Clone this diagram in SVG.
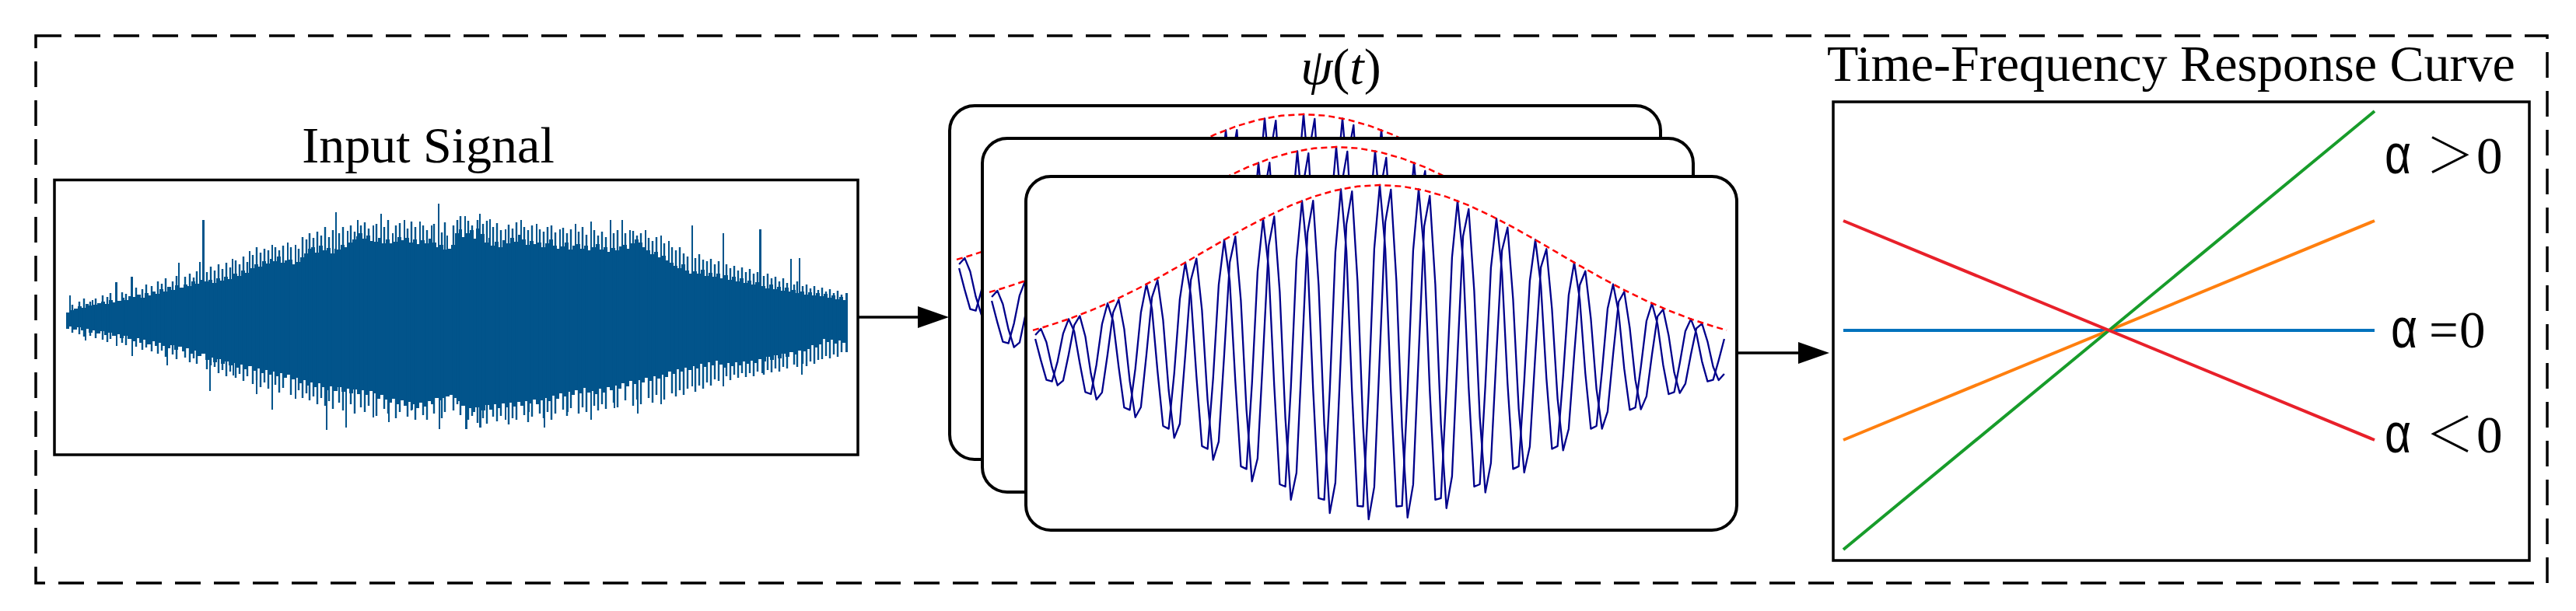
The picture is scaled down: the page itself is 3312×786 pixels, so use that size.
<svg xmlns="http://www.w3.org/2000/svg" xmlns:xlink="http://www.w3.org/1999/xlink" width="3312" height="786" viewBox="0 0 3312 786">
<style>
.lbl{font-family:"Liberation Serif","Times New Roman",serif;font-size:66px;fill:#000}
.card{fill:#fff;stroke:#000;stroke-width:4}
.box{fill:#fff;stroke:#000;stroke-width:3.5}
.wave{fill:none;stroke:#00008b;stroke-width:2.3;stroke-linejoin:round}
.env{fill:none;stroke:#ff0000;stroke-width:2.5;stroke-dasharray:8 5}
.conn{fill:none;stroke:#000;stroke-width:3.5}
.al{font-family:"Liberation Sans",Arial,sans-serif;font-size:72px}
.cj{font-family:"Noto Sans CJK SC",sans-serif;font-size:62px;font-weight:300}
.tm{font-family:"Liberation Serif","Times New Roman",serif;font-size:67px}
.tf{fill:none;stroke-width:4}
.sig{fill:#02548b}
.sigl{fill:none;stroke:#02548b;stroke-width:2.4}
</style>
<defs>
<marker id="ah" markerUnits="userSpaceOnUse" markerWidth="42" markerHeight="28" refX="25" refY="14" orient="auto">
<path d="M0,0 L40,14 L0,28 Z" fill="#000"/>
</marker>
<g id="wv">
<polyline class="wave" points="-442.9,-20 -435.7,7.6 -428.6,32.6 -421.4,34.6 -414.3,9.1 -407.1,-26.9 -400,-45.6 -392.9,-30.1 -385.7,11.3 -378.6,48.4 -371.4,51 -364.3,13.2 -357.1,-39 -350,-65.8 -342.9,-43 -335.7,16.1 -328.6,68.3 -321.4,71.4 -314.3,18.4 -307.1,-54 -300,-90.4 -292.9,-58.7 -285.7,21.8 -278.6,92 -271.4,95.6 -264.3,24.5 -257.1,-71.2 -250,-118.3 -242.9,-76.3 -235.7,28.2 -228.6,117.9 -221.4,121.5 -214.3,31 -207.1,-89.4 -200,-147.5 -192.9,-94.5 -185.7,34.6 -178.6,143.9 -171.4,147.4 -164.3,37.3 -157.1,-106.7 -150,-174.9 -142.9,-111.3 -135.7,40.5 -128.6,167 -121.4,170 -114.3,42.7 -107.1,-121.5 -100,-197.7 -92.9,-124.9 -85.7,45.1 -78.6,184.9 -71.4,186.9 -64.3,46.6 -57.1,-131.6 -50,-212.7 -42.9,-133.5 -35.7,47.9 -28.6,194.9 -21.4,195.5 -14.3,48.4 -7.1,-135.9 0,-218 7.1,-135.9 14.3,48.4 21.4,195.5 28.6,194.9 35.7,47.9 42.9,-133.5 50,-212.7 57.1,-131.6 64.3,46.6 71.4,186.9 78.6,184.9 85.7,45.1 92.9,-124.9 100,-197.7 107.1,-121.5 114.3,42.7 121.4,170 128.6,167 135.7,40.5 142.9,-111.3 150,-174.9 157.1,-106.7 164.3,37.3 171.4,147.4 178.6,143.9 185.7,34.6 192.9,-94.5 200,-147.5 207.1,-89.4 214.3,31 221.4,121.5 228.6,117.9 235.7,28.2 242.9,-76.3 250,-118.3 257.1,-71.2 264.3,24.5 271.4,95.6 278.6,92 285.7,21.8 292.9,-58.7 300,-90.4 307.1,-54 314.3,18.4 321.4,71.4 328.6,68.3 335.7,16.1 342.9,-43 350,-65.8 357.1,-39 364.3,13.2 371.4,51 378.6,48.4 385.7,11.3 392.9,-30.1 400,-45.6 407.1,-26.9 414.3,9.1 421.4,34.6 428.6,32.6 435.7,7.6 442.9,-20"/>
<polyline class="wave" points="-442.9,-25 -435.7,-33.1 -428.6,-15.7 -421.4,16.7 -414.3,39.7 -407.1,33.7 -400,0 -392.9,-37.7 -385.7,-49.6 -378.6,-23.3 -371.4,24.6 -364.3,58 -357.1,48.9 -350,0 -342.9,-53.9 -335.7,-70.6 -328.6,-32.9 -321.4,34.4 -314.3,80.8 -307.1,67.7 -300,0 -292.9,-73.6 -285.7,-95.6 -278.6,-44.3 -271.4,46 -264.3,107.3 -257.1,89.3 -250,0 -242.9,-95.7 -235.7,-123.4 -228.6,-56.8 -221.4,58.5 -214.3,135.7 -207.1,112.1 -200,0 -192.9,-118.5 -185.7,-151.8 -178.6,-69.3 -171.4,71 -164.3,163.3 -157.1,133.8 -150,0 -142.9,-139.6 -135.7,-177.5 -128.6,-80.4 -121.4,81.9 -114.3,187 -107.1,152.3 -100,0 -92.9,-156.7 -85.7,-197.8 -78.6,-89 -71.4,90 -64.3,204.1 -57.1,165 -50,0 -42.9,-167.4 -35.7,-209.9 -28.6,-93.9 -21.4,94.2 -14.3,212.1 -7.1,170.4 0,0 7.1,-170.4 14.3,-212.1 21.4,-94.2 28.6,93.9 35.7,209.9 42.9,167.4 50,0 57.1,-165 64.3,-204.1 71.4,-90 78.6,89 85.7,197.8 92.9,156.7 100,0 107.1,-152.3 114.3,-187 121.4,-81.9 128.6,80.4 135.7,177.5 142.9,139.6 150,0 157.1,-133.8 164.3,-163.3 171.4,-71 178.6,69.3 185.7,151.8 192.9,118.5 200,0 207.1,-112.1 214.3,-135.7 221.4,-58.5 228.6,56.8 235.7,123.4 242.9,95.7 250,0 257.1,-89.3 264.3,-107.3 271.4,-46 278.6,44.3 285.7,95.6 292.9,73.6 300,0 307.1,-67.7 314.3,-80.8 321.4,-34.4 328.6,32.9 335.7,70.6 342.9,53.9 350,0 357.1,-48.9 364.3,-58 371.4,-24.6 378.6,23.3 385.7,49.6 392.9,37.7 400,0 407.1,-33.7 414.3,-39.7 421.4,-16.7 428.6,15.7 435.7,33.1 442.9,25"/>
<polyline class="env" points="-446,-31.1 -428.6,-36.2 -400,-45.6 -371.4,-56.6 -342.9,-69 -314.3,-82.9 -285.7,-98.1 -257.1,-114.2 -228.6,-130.8 -200,-147.5 -171.4,-163.6 -142.9,-178.5 -114.3,-191.8 -85.7,-202.9 -57.1,-211.1 -28.6,-216.3 0,-218 28.6,-216.3 57.1,-211.1 85.7,-202.9 114.3,-191.8 142.9,-178.5 171.4,-163.6 200,-147.5 228.6,-130.8 257.1,-114.2 285.7,-98.1 314.3,-82.9 342.9,-69 371.4,-56.6 400,-45.6 428.6,-36.2 446,-31.1"/>
</g>
</defs>
<rect width="3312" height="786" fill="#fff"/>
<g id="frame">
<rect x="46" y="46" width="3229" height="704" fill="none" stroke="#000" stroke-width="3.5" stroke-dasharray="33 17"/>
</g>
<g id="input-signal">
<text class="lbl" x="550.5" y="209" text-anchor="middle">Input Signal</text>
<rect class="box" x="70" y="231.5" width="1033" height="353.5"/>
<path class="sig" d="M85,411 V402 H89 V380 H91 V399 H95 V397 H100 V394 H105 V396 H110 V391 H114 V393 H118 V386 H120 V392 H125 V390 H130 V388 H135 V391 H140 V386 H145 V389 H148 V363 H151 V387 H156 V383 H160 V386 H165 V381 H168 V356 H171 V382 H176 V379 H181 V383 H186 V377 H191 V380 H196 V375 H200 V378 H205 V372 H210 V375 H215 V369 H220 V373 H225 V367 H229 V338 H231 V370 H236 V366 H241 V368 H246 V362 H251 V365 H256 V337 H258 V360 H260 V283 H263 V362 H268 V360 H273 V364 H278 V358 H283 V361 H288 V356 H293 V359 H298 V333 H300 V352 H305 V355 H310 V348 H315 V351 H320 V323 H322 V345 H327 V340 H332 V343 H337 V336 H342 V339 H347 V333 H349 V315 H351 V336 H356 V330 H361 V338 H366 V335 H369 V312 H371 V334 H376 V340 H379 V315 H381 V337 H386 V331 H391 V326 H396 V320 H400 V318 H405 V325 H410 V316 H415 V322 H420 V319 H425 V326 H430 V320 H431 V273 H433 V321 H438 V315 H443 V318 H446 V297 H448 V312 H453 V308 H458 V304 H459 V283 H461 V300 H466 V307 H471 V303 H476 V310 H479 V290 H481 V311 H486 V306 H489 V275 H491 V313 H496 V308 H501 V313 H504 V300 H506 V311 H511 V305 H516 V309 H519 V283 H521 V306 H526 V312 H531 V308 H536 V314 H539 V285 H541 V309 H546 V313 H551 V307 H554 V290 H556 V312 H561 V318 H563 V262 H565 V315 H570 V321 H574 V303 H576 V320 H580 V315 H585 V300 H590 V295 H594 V305 H597 V278 H599 V300 H604 V296 H609 V307 H612 V294 H616 V275 H618 V301 H623 V312 H628 V306 H629 V282 H631 V316 H636 V311 H641 V318 H646 V309 H649 V295 H651 V313 H656 V306 H661 V311 H666 V302 H669 V283 H671 V308 H676 V315 H681 V310 H686 V314 H689 V288 H691 V312 H696 V318 H701 V313 H706 V308 H711 V316 H716 V320 H719 V295 H721 V317 H726 V312 H731 V321 H736 V316 H739 V288 H741 V314 H746 V320 H751 V316 H756 V322 H759 V285 H761 V318 H766 V314 H771 V321 H776 V318 H781 V324 H784 V283 H786 V319 H791 V322 H796 V317 H799 V283 H801 V315 H806 V320 H809 V296 H811 V313 H816 V308 H821 V312 H826 V318 H829 V296 H831 V322 H836 V327 H841 V324 H846 V331 H849 V303 H851 V329 H856 V335 H859 V310 H861 V338 H866 V342 H871 V345 H876 V340 H881 V348 H886 V352 H889 V290 H891 V349 H896 V352 H901 V347 H906 V355 H911 V351 H916 V356 H921 V352 H926 V358 H929 V300 H931 V354 H936 V360 H941 V356 H946 V362 H951 V358 H956 V364 H961 V361 H966 V366 H971 V363 H976 V295 H979 V368 H984 V371 H989 V366 H994 V372 H999 V369 H1004 V374 H1009 V370 H1014 V375 H1016 V333 H1018 V373 H1023 V377 H1027 V332 H1029 V375 H1034 V379 H1039 V376 H1044 V380 H1049 V377 H1054 V381 H1059 V378 H1064 V383 H1069 V380 H1074 V385 H1079 V382 H1084 V386 H1087 V377 H1090 V453 H1087 V441 H1082 V438 H1077 V442 H1072 V437 H1067 V440 H1062 V436 H1057 V443 H1052 V447 H1047 V444 H1042 V449 H1037 V452 H1032 V482 H1030 V451 H1025 V456 H1020 V453 H1015 V459 H1010 V455 H1005 V461 H1000 V457 H995 V463 H990 V459 H985 V465 H981 V480 H979 V462 H974 V467 H969 V464 H964 V468 H959 V465 H954 V470 H949 V466 H944 V471 H939 V467 H934 V473 H931 V497 H929 V469 H924 V464 H919 V470 H914 V466 H909 V472 H904 V468 H899 V474 H894 V471 H891 V497 H889 V476 H884 V473 H879 V478 H874 V475 H869 V481 H864 V478 H859 V485 H854 V482 H851 V520 H849 V487 H844 V484 H839 V490 H834 V486 H829 V492 H824 V489 H821 V532 H819 V494 H814 V490 H809 V497 H804 V493 H799 V500 H794 V496 H791 V525 H789 V502 H784 V498 H779 V505 H774 V500 H769 V507 H764 V503 H761 V540 H759 V505 H754 V499 H749 V506 H744 V502 H739 V508 H734 V504 H731 V530 H729 V510 H724 V506 H719 V513 H714 V509 H709 V516 H704 V512 H701 V550 H699 V515 H694 V520 H689 V514 H684 V519 H681 V530 H679 V516 H674 V522 H669 V517 H664 V523 H659 V518 H654 V524 H651 V540 H649 V519 H644 V525 H639 V520 H634 V527 H629 V521 H624 V528 H619 V550 H616 V524 H611 V530 H606 V525 H601 V552 H598 V522 H593 V516 H588 V512 H583 V508 H578 V510 H573 V512 H568 V515 H566 V552 H564 V512 H559 V520 H554 V516 H549 V523 H544 V518 H539 V525 H534 V520 H531 V527 H529 V517 H524 V522 H519 V515 H514 V520 H509 V513 H504 V518 H501 V543 H499 V514 H494 V508 H489 V513 H484 V506 H481 V537 H479 V503 H474 V508 H469 V502 H464 V507 H459 V501 H454 V506 H449 V500 H446 V550 H444 V504 H439 V498 H434 V503 H429 V497 H424 V502 H421 V553 H419 V498 H414 V493 H409 V498 H404 V492 H399 V496 H394 V489 H389 V493 H384 V486 H381 V513 H379 V488 H374 V482 H369 V486 H364 V480 H359 V484 H354 V478 H351 V527 H349 V482 H344 V476 H339 V480 H334 V474 H331 V507 H329 V477 H324 V471 H319 V475 H314 V469 H309 V473 H304 V467 H301 V483 H299 V470 H294 V465 H289 V468 H284 V462 H279 V466 H274 V460 H271 V503 H269 V463 H264 V455 H259 V458 H254 V451 H249 V455 H244 V448 H239 V452 H234 V446 H229 V450 H224 V444 H219 V448 H216 V470 H214 V445 H209 V441 H204 V445 H199 V439 H194 V443 H189 V437 H184 V441 H179 V435 H174 V439 H171 V458 H169 V436 H164 V432 H159 V435 H154 V430 H151 V445 H149 V432 H144 V428 H139 V431 H134 V426 H129 V429 H124 V425 H119 V428 H114 V423 H111 V438 H109 V425 H104 V421 H99 V424 H94 V420 H89 V423 H85 Z"/>
<path class="sigl" d="M93 392V428M102 388V430M108 384V433M116 388V432M123 384V435M132 380V437M138 382V440M142 377V436M157 376V441M162 378V444M175 370V446M183 372V450M188 366V447M195 368V452M203 362V455M208 365V451M213 358V459M222 362V456M227 355V462M238 356V460M244 352V466M249 357V461M253 349V468M266 350V475M271 343V470M276 348V472M281 340V480M286 346V476M291 338V484M296 344V478M303 335V486M308 340V481M313 330V490M318 337V484M325 328V494M330 318V489M335 325V498M340 320V492M345 322V500M354 318V495M359 322V505M364 316V499M374 318V508M384 320V502M389 305V512M394 308V506M398 300V515M403 306V510M408 298V520M413 303V512M418 292V522M423 305V516M428 296V526M436 300V518M441 292V528M451 290V520M456 298V532M464 290V524M469 286V530M474 294V522M484 288V535M494 292V526M499 283V532M509 290V538M514 287V530M524 294V536M529 285V528M534 292V540M544 290V534M549 296V540M558 288V532M568 299V538M572 286V530M583 290V528M588 283V520M592 278V534M602 284V540M607 290V535M614 283V544M621 288V538M626 284V545M634 292V536M639 287V542M644 296V535M654 289V546M659 294V538M664 286V540M674 292V534M679 296V543M684 290V536M694 295V532M699 298V538M704 292V530M709 290V540M714 299V532M724 293V527M729 300V535M734 295V525M744 298V532M749 292V524M754 302V530M764 296V522M769 303V528M774 298V520M779 305V526M789 300V518M794 296V524M804 300V515M814 297V522M819 303V514M824 300V520M834 306V512M839 310V518M844 305V508M854 313V514M864 318V506M869 322V510M874 318V502M879 326V508M884 330V500M894 332V504M899 327V496M904 334V500M909 336V492M914 333V496M919 340V488M924 336V490M934 340V484M939 345V489M944 342V482M949 348V486M954 344V480M959 350V485M964 346V480M969 352V484M974 350V478M982 355V482M987 352V476M992 358V479M997 356V474M1002 362V478M1007 358V472M1012 364V474M1021 366V469M1025 362V472M1032 368V468M1037 366V471M1042 371V465M1047 368V468M1052 373V463M1057 370V462M1062 375V458M1067 372V461M1072 377V456M1077 374V459M1082 379V453"/>
</g>
<g id="wavelet-bank">
<text class="lbl" x="1724" y="108" text-anchor="middle" font-size="60" font-style="italic">ψ<tspan font-style="normal">(</tspan>t<tspan font-style="normal">)</tspan></text>
<g id="card1">
<rect class="card" x="1221" y="136" width="914" height="455" rx="32"/>
<use xlink:href="#wv" href="#wv" transform="translate(1676,365)"/>
</g>
<g id="card2">
<rect class="card" x="1263" y="178" width="914" height="455" rx="32"/>
<use xlink:href="#wv" href="#wv" transform="translate(1718,407)"/>
</g>
<g id="card3">
<rect class="card" x="1319" y="227" width="914" height="455" rx="32"/>
<use xlink:href="#wv" href="#wv" transform="translate(1774,456)"/>
</g>
</g>
<g id="tf-curve">
<text class="lbl" x="2791.5" y="104" text-anchor="middle">Time-Frequency Response Curve</text>
<rect class="box" x="2357" y="131" width="895" height="590"/>
<line class="tf" x1="2370" y1="425" x2="3053" y2="425" stroke="#0072bd"/>
<line class="tf" x1="2370" y1="566" x2="3053" y2="284" stroke="#ff7f0e"/>
<line class="tf" x1="2370" y1="707" x2="3053" y2="143" stroke="#179c2a"/>
<line class="tf" x1="2370" y1="284" x2="3053" y2="566" stroke="#e8202a"/>
<text y="223"><tspan class="al" x="3066" textLength="34" lengthAdjust="spacingAndGlyphs">α</tspan><tspan class="cj" x="3119">＞</tspan><tspan class="tm" x="3184">0</tspan></text>
<text y="447"><tspan class="al" x="3074" textLength="34" lengthAdjust="spacingAndGlyphs">α</tspan><tspan class="tm" x="3123">=</tspan><tspan class="tm" x="3162">0</tspan></text>
<text y="582"><tspan class="al" x="3066" textLength="34" lengthAdjust="spacingAndGlyphs">α</tspan><tspan class="cj" x="3119">＜</tspan><tspan class="tm" x="3184">0</tspan></text>
</g>
<g id="connectors">
<path class="conn" d="M1103,408 H1205" marker-end="url(#ah)"/>
<path class="conn" d="M2233,454 H2337" marker-end="url(#ah)"/>
</g>
</svg>
